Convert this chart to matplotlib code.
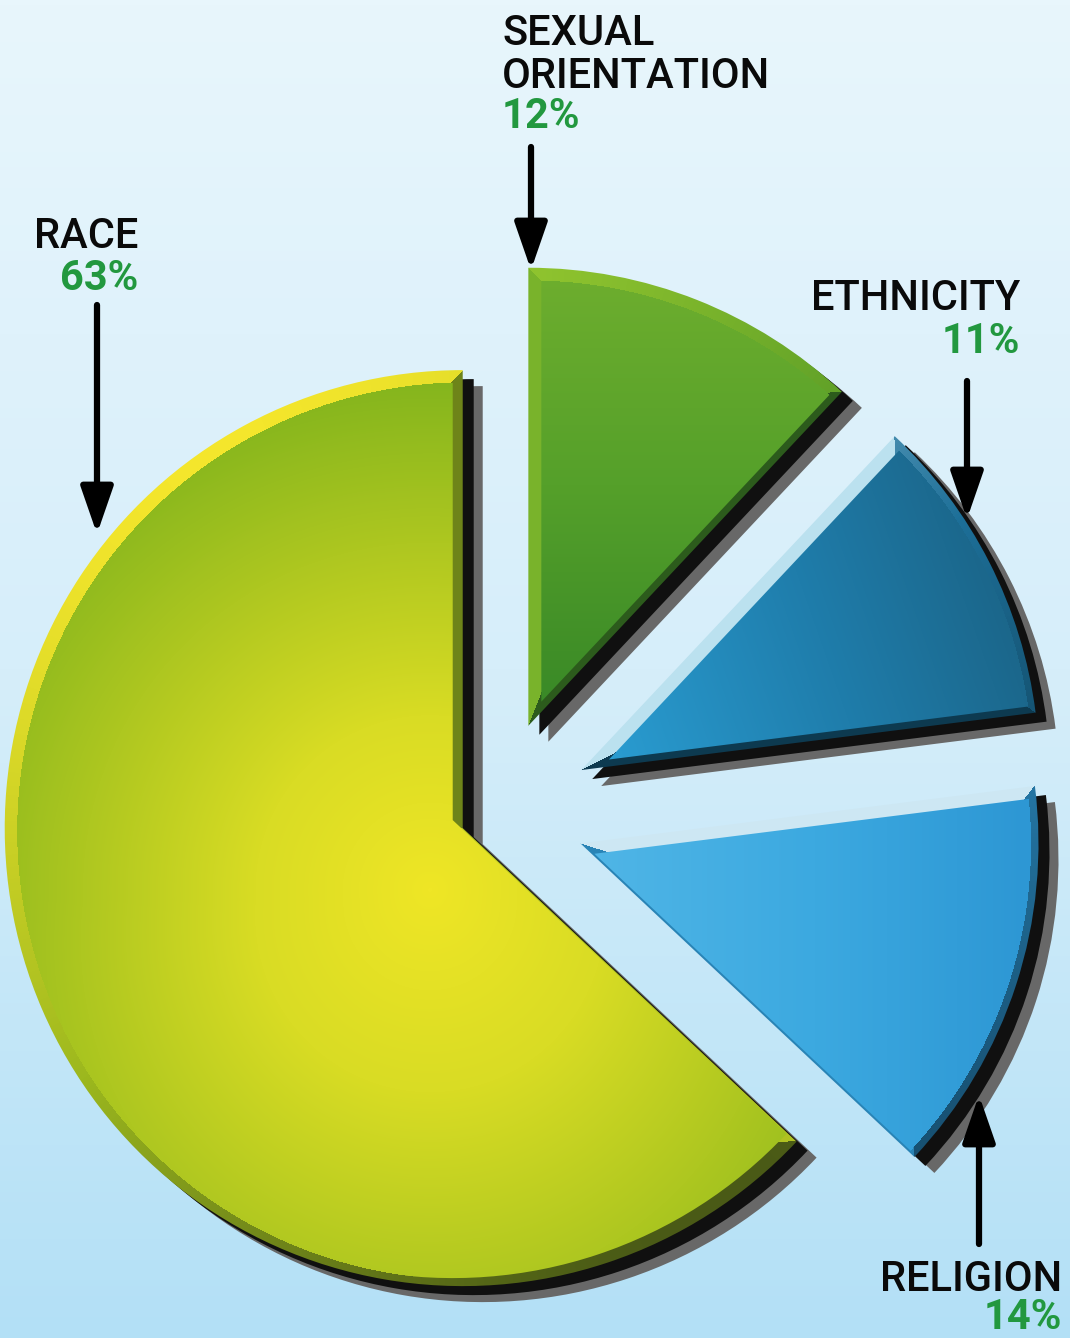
import numpy as np
import matplotlib.pyplot as plt
from matplotlib.colors import LinearSegmentedColormap
from matplotlib.patches import Wedge

W, H = 1070, 1338

# data (clockwise from 12 o'clock, as in the original)
labels = ['SEXUAL\nORIENTATION', 'ETHNICITY', 'RELIGION', 'RACE']
shares = [12, 11, 14, 63]
pct_text = ['12%', '11%', '14%', '63%']
explode = [96, 99, 92, 33]     # how far each slice is pulled out (px)

plt.rcParams['font.family'] = ['Roboto', 'DejaVu Sans']

fig = plt.figure(figsize=(W / 100, H / 100), dpi=100)
ax = fig.add_axes([0, 0, 1, 1])

# background gradient
bg = LinearSegmentedColormap.from_list('bg', ['#e8f6fc', '#d6eefa', '#b3e0f6'])
ax.imshow(np.linspace(0, 1, 256)[:, None], cmap=bg, aspect='auto',
          extent=[0, W, 0, H], origin='upper', zorder=0)

cx, cy = 493, H - 815   # pie centre, y measured upwards
R = 458

# drop shadows: gray then black, offset to the lower right
for (dx, dy), col in [((20, -16), '#686868'), ((11, -9), '#101010')]:
    sh, _ = ax.pie(shares, explode=explode, startangle=90, counterclock=False,
                   radius=R, center=(cx + dx, cy + dy), frame=True,
                   wedgeprops=dict(linewidth=0))
    for w in sh:
        w.set_facecolor(col)
        w.set_zorder(1)

wedges, _ = ax.pie(shares, explode=explode, startangle=90, counterclock=False,
                   radius=R, center=(cx, cy), frame=True,
                   wedgeprops=dict(linewidth=0))
for w in wedges:
    w.set_facecolor('none')
    w.set_zorder(2)

gx, gy = np.meshgrid(np.linspace(0, W, 1070), np.linspace(H, 0, 1338))
LX, LY = -0.55, 0.835   # light from upper left


def seg_dist(px, py, ux, uy, L):
    t = np.clip(px * ux + py * uy, 0, L)
    return np.hypot(px - t * ux, py - t * uy)


def bevel_field(w):
    c = np.array(w.center)
    r = w.r
    t1, t2 = np.radians(w.theta1), np.radians(w.theta2)
    px, py = gx - c[0], gy - c[1]
    d1 = seg_dist(px, py, np.cos(t1), np.sin(t1), r)
    d2 = seg_dist(px, py, np.cos(t2), np.sin(t2), r)
    rr = np.hypot(px, py) + 1e-9
    da = np.abs(r - rr)
    n1 = (np.sin(t1), -np.cos(t1))
    n2 = (-np.sin(t2), np.cos(t2))
    s1 = n1[0] * LX + n1[1] * LY
    s2 = n2[0] * LX + n2[1] * LY
    sa = (px * LX + py * LY) / rr
    s = np.where(da <= np.minimum(d1, d2), sa, np.where(d1 < d2, s1, s2))
    return (s + 1) / 2


def inner_wedge(w, w1, w2):
    # same angles, apex moved so both straight sides are inset by w1, w2
    t1, t2 = np.radians(w.theta1), np.radians(w.theta2)
    n1 = np.array([np.sin(t1), -np.cos(t1)])
    n2 = np.array([-np.sin(t2), np.cos(t2)])
    v = np.linalg.solve(np.array([n1, n2]), np.array([-w1, -w2]))
    c = np.array(w.center) + v
    return Wedge(c, w.r, w.theta1, w.theta2, transform=ax.transData)


def paint(field, colors, clip, z):
    cm = LinearSegmentedColormap.from_list('s', colors)
    im = ax.imshow(field, cmap=cm, vmin=0, vmax=1,
                   extent=[0, W, 0, H], origin='upper', aspect='auto',
                   zorder=z, interpolation='nearest')
    im.set_clip_path(clip)


bevel_cols = [['#2c5a1c', '#4f9426', '#9ccd30'],
              ['#0c3448', '#1d6f98', '#bfe4f2'],
              ['#174f70', '#2f94cc', '#dff1f8'],
              ['#4a5a16', '#9cb81e', '#f4e62c']]
# bevel: (side at theta1, side at theta2, rim width, rim centre shift)
insets = [(7, 13, 10, (2.5, -2.5)), (7, 13, 7, (1, -1)),
          (2, 12, 8, (1, -1)), (10, 1, 9, (3, -3))]

# face shading of each slice
faces = []
# sexual orientation: lighter at the top, darker near the tip
faces.append(((H - 270 - gy) / 430, ['#6eae2e', '#55a02a', '#3a8a27']))
# ethnicity: brighter blue near the tip, dark teal at the rim
faces.append(((gx - 600) / 420 * 0.8 + (gy - (H - 760)) / 300 * 0.2,
              ['#2a9dd2', '#1f7dab', '#1a5f80']))
# religion
faces.append(((gx - 600) / 430, ['#4fb5e6', '#3ca9e0', '#2d97d4']))
# race: yellow glow, greener towards the upper left
d = np.hypot(gx - 430, gy - (H - 890)) / 520
faces.append((d + np.clip(((H - 900) - gy) / 900, 0, 1) * -0.25,
              ['#efe626', '#d9dc24', '#aec720', '#82b41d']))

for w, bc, (w1, w2, rim, (ox, oy)), (fld, fc) in zip(wedges, bevel_cols,
                                                     insets, faces):
    paint(bevel_field(w), bc, w, 3)
    inside = np.hypot(gx - w.center[0] - ox, gy - w.center[1] - oy) < w.r - rim
    face = np.ma.masked_where(~inside, np.clip(fld, 0, 1))
    paint(face, fc, inner_wedge(w, w1, w2), 4)

ax.set_xlim(0, W)
ax.set_ylim(0, H)
ax.set_aspect('auto')
ax.axis('off')

black = '#0a0a0a'
green = '#22983f'
fs = 30

# label lines placed by baseline (y from the top)
lab_lines = [['SEXUAL', 'ORIENTATION'], ['ETHNICITY'], ['RELIGION'], ['RACE']]
lab_pos = [(502, [45, 88], 128, 'left'),
           (1020, [310], 353, 'right'),
           (1062, [1291], 1329, 'right'),
           (138, [248], 290, 'right')]
for lines, pct, (x, ys, yp, ha) in zip(lab_lines, pct_text, lab_pos):
    for s, y in zip(lines, ys):
        ax.text(x, H - y, s, fontsize=fs, color=black, va='baseline', ha=ha,
                fontweight='medium')
    ax.text(x, H - yp, pct, fontsize=fs, color=green, va='baseline', ha=ha,
            fontweight='bold')

arrows = [((97, 305), (97, 534)), ((531, 147), (531, 270)),
          ((967, 381), (967, 519)), ((979, 1244), (979, 1095))]
for (x0, y0), (x1, y1) in arrows:
    ax.annotate('', xy=(x1, H - y1), xytext=(x0, H - y0),
                arrowprops=dict(arrowstyle='-|>,head_width=0.45,head_length=1.3',
                                lw=4.5, color='black', mutation_scale=22,
                                shrinkA=0, shrinkB=0), zorder=6)

fig.savefig('out.png', dpi=100)
